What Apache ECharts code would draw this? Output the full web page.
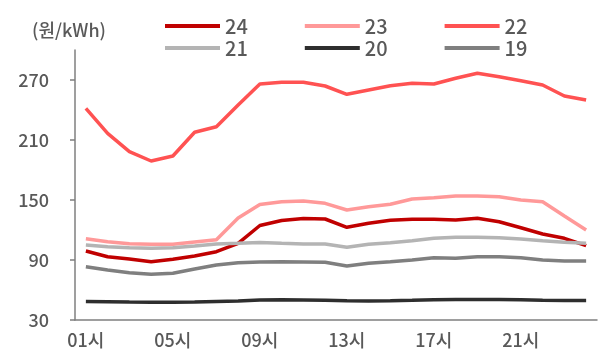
<!DOCTYPE html>
<html>
<head>
<meta charset="utf-8">
<script src="https://cdn.jsdelivr.net/npm/echarts@6/dist/echarts.min.js"></script>
<style>
  html, body { margin: 0; padding: 0; background: #fff; }
  #chart { width: 601px; height: 349px; }
</style>
</head>
<body>
<div id="chart"></div>
<script>
// Hourly price (원/kWh) by year, 01시 to 24시
const hours = ['01시','02시','03시','04시','05시','06시','07시','08시','09시','10시','11시','12시',
               '13시','14시','15시','16시','17시','18시','19시','20시','21시','22시','23시','24시'];

const y24 = [99, 93.3, 91, 88.3, 90.7, 94, 98.3, 106.7, 124.5, 129.5, 131.5, 131, 122.7, 126.7, 129.7, 130.7,
             130.7, 130, 131.7, 128.3, 122.3, 116, 111.7, 104.3];
const y23 = [111.3, 108.3, 106.3, 105.7, 105.7, 108, 110.3, 132, 145.5, 148.3, 149, 146.7, 140, 143.3, 145.7, 151,
             152.3, 154, 154, 153.3, 150, 148.3, 134, 120];
const y22 = [241.7, 216.7, 198.3, 189, 194, 217.7, 223.3, 245, 266, 267.7, 267.7, 264, 255.7, 260, 264.3, 266.7,
             266, 271.7, 276.7, 273.3, 269.3, 265, 254, 250];
const y21 = [105, 103.3, 102.3, 101.7, 102.3, 104, 106, 106.7, 107.5, 106.7, 106, 106, 102.7, 105.7, 107.3, 109.3,
             111.7, 112.7, 112.7, 112.3, 111, 109.3, 107.7, 106.7];
const y20 = [48.5, 48.3, 48, 47.8, 47.8, 48, 48.5, 49, 50, 50.3, 50, 49.7, 49.3, 49, 49.3, 49.7,
             50.2, 50.5, 50.5, 50.5, 50.2, 49.8, 49.5, 49.5];
const y19 = [83.3, 80, 77.3, 75.7, 76.7, 81, 85, 87.3, 88, 88.3, 88, 87.7, 84, 86.7, 88.3, 90,
             92.3, 91.7, 93.3, 93.3, 92.3, 90, 89, 89];

const yTicks = [30, 90, 150, 210, 270];

const seriesDefs = [
  { name: '24', data: y24, color: '#C00000' },
  { name: '23', data: y23, color: '#FF9999' },
  { name: '22', data: y22, color: '#FF5252' },
  { name: '21', data: y21, color: '#B4B4B4' },
  { name: '20', data: y20, color: '#2E2E2E' },
  { name: '19', data: y19, color: '#7F7F7F' }
];

const FONT = 'Noto Sans CJK KR';
const WEIGHT = 500;
const TEXT = '#595959';
const AXIS = '#7F7F7F';

const legendBase = {
  orient: 'horizontal',
  left: 160,
  icon: 'rect',
  itemWidth: 55,
  itemHeight: 4,
  itemGap: 57,
  textStyle: { fontFamily: FONT, fontWeight: WEIGHT, fontSize: 20, color: TEXT, lineHeight: 22 },
  selectedMode: false
};

const chart = echarts.init(document.getElementById('chart'), null, { renderer: 'canvas' });
chart.setOption({
  animation: false,
  backgroundColor: '#ffffff',
  title: {
    text: '(원/kWh)',
    left: 32,
    top: 21,
    padding: 0,
    textStyle: { fontFamily: FONT, fontSize: 18, fontWeight: WEIGHT, color: TEXT }
  },
  legend: [
    Object.assign({}, legendBase, { top: 10, data: ['24', '23', '22'] }),
    Object.assign({}, legendBase, { top: 32, data: ['21', '20', '19'] })
  ],
  grid: { left: 75, right: 4, top: 50, bottom: 29 },
  xAxis: {
    type: 'category',
    data: hours,
    boundaryGap: true,
    axisLine: { lineStyle: { color: AXIS, width: 1.5 } },
    axisTick: { interval: 3, length: 6, lineStyle: { color: AXIS, width: 1.5 } },
    axisLabel: { interval: 3, margin: 11, fontFamily: FONT, fontWeight: WEIGHT, fontSize: 18, color: TEXT }
  },
  yAxis: {
    type: 'value',
    min: 30,
    max: 300,
    interval: 60,
    splitLine: { show: false },
    axisLine: { show: true, lineStyle: { color: AXIS, width: 1.5 } },
    axisTick: { show: true, length: 5, customValues: yTicks, lineStyle: { color: AXIS, width: 1.5 } },
    axisLabel: { margin: 26, customValues: yTicks, fontFamily: FONT, fontWeight: WEIGHT, fontSize: 18, color: TEXT }
  },
  series: seriesDefs.map(s => ({
    name: s.name,
    type: 'line',
    data: s.data,
    symbol: 'none',
    color: s.color,
    lineStyle: { color: s.color, width: 3.5 },
    emphasis: { disabled: true }
  }))
});
</script>
</body>
</html>
